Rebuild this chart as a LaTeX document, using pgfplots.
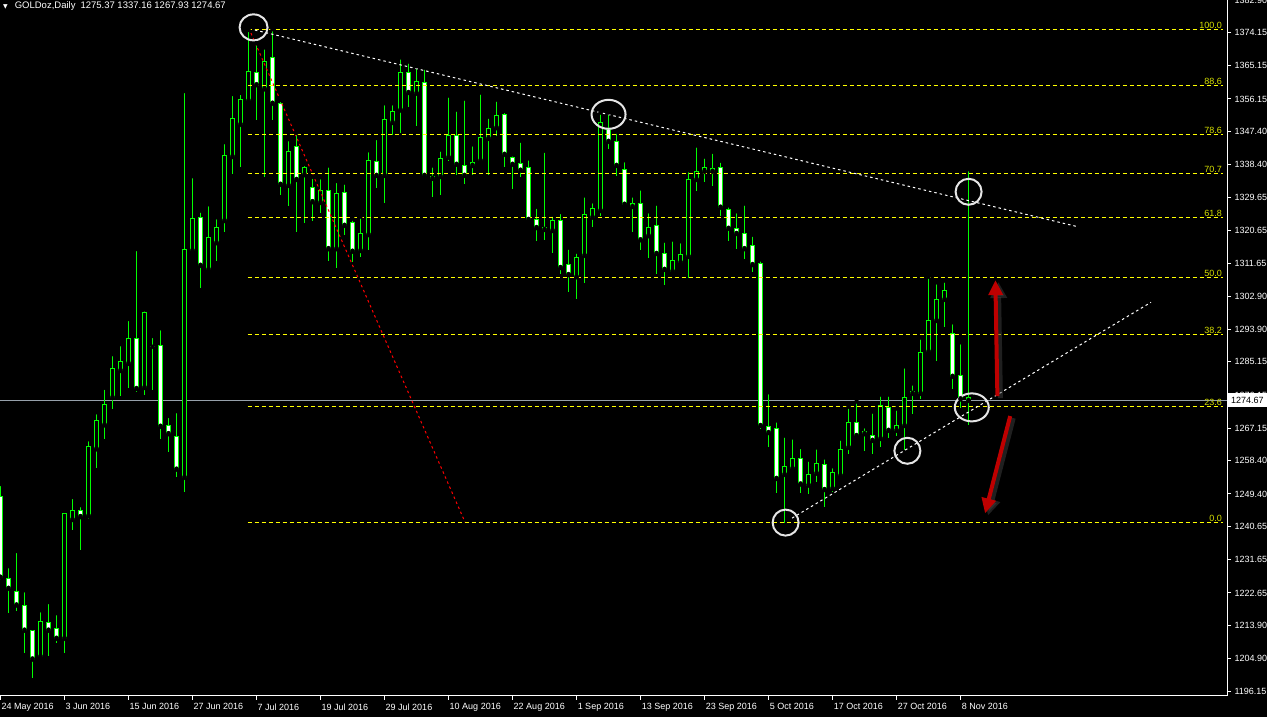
\documentclass[border=0pt]{standalone}
\usepackage{pgfplots}
\pgfplotsset{compat=1.18}
\usepackage{pgfplotstable}
\usepackage{fontspec}
\setmainfont{Liberation Sans}
\newfontfamily\symfont{DejaVu Sans}
\usetikzlibrary{arrows.meta}

\definecolor{candle}{RGB}{0,255,0}
\definecolor{fibline}{RGB}{255,255,0}
\definecolor{fibtext}{RGB}{215,225,0}
\definecolor{bidline}{RGB}{150,160,170}
\definecolor{arrowred}{RGB}{190,0,0}

% bar index k (0 = 24 May 2016), open high low close
\pgfplotstableread{
k o h l c
0 1248.6 1252.1 1226.1 1226.9
1 1226.5 1229.9 1217.3 1223.9
2 1223.0 1234.0 1217.7 1219.4
3 1219.2 1223.4 1206.3 1212.6
4 1212.4 1213.1 1199.6 1204.8
5 1205.5 1218.0 1205.3 1215.0
6 1214.6 1220.2 1205.7 1212.6
7 1213.0 1217.2 1209.2 1210.4
8 1210.4 1244.8 1206.5 1244.2
9 1242.5 1248.6 1239.6 1245.0
10 1245.0 1246.4 1234.2 1243.3
11 1243.5 1264.2 1242.6 1262.3
12 1261.6 1271.5 1256.4 1269.3
13 1268.1 1278.1 1264.3 1273.6
14 1275.5 1287.2 1272.3 1283.3
15 1282.8 1289.9 1275.9 1285.2
16 1284.7 1296.7 1278.1 1291.4
17 1291.4 1315.6 1277.0 1277.9
18 1278.2 1299.3 1276.1 1298.5
19 1289.3 1292.1 1277.5 1289.3
20 1289.6 1294.2 1264.3 1267.7
21 1267.9 1270.5 1260.8 1265.7
22 1265.0 1271.8 1254.0 1256.1
23 1253.9 1358.3 1250.0 1315.5
24 1315.2 1335.3 1315.0 1323.9
25 1324.2 1326.0 1305.1 1311.2
26 1310.1 1327.7 1310.1 1318.7
27 1317.3 1324.2 1312.4 1321.4
28 1323.3 1344.5 1320.3 1340.9
29 1340.6 1357.5 1335.9 1350.9
30 1349.3 1357.8 1337.8 1356.1
31 1355.7 1374.8 1355.1 1363.6
32 1363.3 1371.2 1350.5 1360.0
33 1358.9 1370.1 1335.1 1366.3
34 1367.4 1375.0 1350.5 1355.0
35 1355.0 1355.9 1330.2 1333.1
36 1332.8 1345.3 1327.2 1342.0
37 1343.3 1347.0 1320.1 1334.4
38 1335.7 1338.6 1322.5 1337.5
39 1332.2 1335.1 1323.2 1328.4
40 1328.2 1335.0 1325.4 1331.4
41 1331.4 1338.2 1312.4 1315.7
42 1315.7 1334.0 1310.6 1330.6
43 1330.9 1333.6 1319.4 1322.0
44 1322.8 1323.8 1312.1 1315.0
45 1315.2 1324.4 1313.5 1319.8
46 1319.5 1342.3 1315.4 1339.5
47 1339.3 1345.6 1332.1 1335.5
48 1335.5 1355.0 1328.1 1350.6
49 1349.8 1355.0 1346.3 1352.8
50 1353.2 1367.4 1347.0 1363.3
51 1363.3 1366.3 1354.1 1357.9
52 1357.7 1365.0 1348.9 1360.9
53 1360.6 1364.6 1334.7 1335.5
54 1335.2 1338.2 1329.7 1334.7
55 1335.2 1342.5 1330.3 1340.1
56 1340.4 1357.1 1339.5 1346.3
57 1346.3 1353.3 1335.7 1338.5
58 1338.2 1356.3 1333.3 1335.5
59 1338.2 1343.9 1335.7 1339.0
60 1339.5 1357.9 1339.0 1345.8
61 1345.5 1351.4 1335.7 1348.2
62 1348.4 1356.0 1346.1 1351.7
63 1352.0 1352.9 1337.7 1341.2
64 1340.3 1341.2 1331.7 1338.5
65 1338.7 1344.9 1335.1 1336.9
66 1337.7 1340.1 1323.4 1323.6
67 1323.6 1327.0 1317.8 1321.4
68 1321.4 1342.2 1318.1 1320.9
69 1320.6 1324.9 1314.6 1323.3
70 1323.3 1325.6 1308.9 1310.6
71 1311.4 1316.0 1303.9 1308.7
72 1308.1 1314.9 1302.1 1313.3
73 1313.9 1330.1 1306.3 1325.0
74 1324.2 1328.5 1321.6 1326.6
75 1326.0 1352.5 1324.6 1349.8
76 1347.9 1352.5 1342.5 1344.7
77 1344.7 1347.3 1335.4 1338.2
78 1337.1 1339.6 1327.5 1327.7
79 1327.8 1330.1 1320.3 1327.1
80 1327.8 1332.0 1315.4 1318.1
81 1319.2 1325.8 1313.2 1321.4
82 1322.0 1327.9 1308.9 1314.4
83 1314.4 1317.9 1306.0 1310.1
84 1309.6 1318.2 1309.4 1312.5
85 1312.0 1317.7 1312.0 1314.2
86 1313.6 1336.9 1307.7 1334.4
87 1334.4 1343.6 1331.2 1336.6
88 1336.6 1340.6 1333.6 1337.7
89 1336.6 1341.9 1332.5 1337.4
90 1337.7 1339.5 1324.5 1326.9
91 1326.3 1327.4 1317.9 1321.2
92 1321.2 1325.8 1315.7 1319.8
93 1319.8 1327.9 1313.0 1315.7
94 1316.5 1319.5 1309.3 1311.4
95 1311.7 1312.8 1266.9 1267.9
96 1267.7 1276.9 1262.0 1266.0
97 1267.1 1269.3 1249.6 1253.6
98 1254.7 1265.2 1241.5 1256.9
99 1256.3 1264.7 1256.0 1259.0
100 1259.0 1262.1 1249.6 1252.1
101 1251.8 1258.7 1249.5 1254.7
102 1255.0 1262.0 1252.5 1257.7
103 1257.4 1259.3 1245.8 1250.6
104 1250.9 1256.9 1249.8 1255.2
105 1254.4 1264.4 1254.4 1261.4
106 1262.0 1273.0 1260.1 1268.7
107 1268.7 1274.4 1264.4 1265.2
108 1266.3 1267.7 1260.9 1265.7
109 1265.2 1271.7 1260.1 1263.9
110 1264.4 1276.3 1262.0 1273.2
111 1272.8 1276.3 1264.4 1266.6
112 1266.6 1272.5 1265.0 1267.9
113 1267.9 1283.9 1261.2 1275.5
114 1277.1 1279.3 1270.9 1276.6
115 1276.6 1291.7 1275.2 1287.7
116 1287.9 1308.1 1287.9 1296.3
117 1296.3 1306.6 1285.4 1302.0
118 1302.0 1307.1 1294.6 1304.4
119 1292.8 1295.8 1277.8 1281.2
120 1281.5 1290.4 1272.5 1275.1
121 1275.37 1337.16 1267.93 1274.67
}\candles

\pgfplotsset{
  body/.style={only marks, mark=none,
    error bars/.cd, y dir=plus, y explicit, error mark=none,
    error bar style={line cap=butt, #1}},
  fib/.style={fibline, line width=1pt, dash pattern=on 4pt off 3pt},
  trend/.style={line width=1pt, dash pattern=on 2.5pt off 3pt},
}

\begin{document}
\begin{tikzpicture}[font=\fontsize{9}{10}\selectfont]
\fill[black] (0,-21pt) rectangle (1267pt,696pt);
\useasboundingbox (0,-21pt) rectangle (1267pt,696pt);
\begin{axis}[
    at={(0,0)}, anchor=south west,
    width=1227pt, height=696pt, scale only axis,
    xmin=-0.0625, xmax=153.3,
    ymin=1194.8, ymax=1382.9,
    axis x line*=bottom, axis y line*=right,
    axis line style={white, line width=1pt, -},
    tick style={white, line width=1pt},
    tick align=outside,
    major tick length=4pt,
    tick label style={font=\fontsize{9}{10}\selectfont, white},
    xtick={0,8,...,120},
    xticklabels={24 May 2016, 3 Jun 2016, 15 Jun 2016, 27 Jun 2016, 7 Jul 2016,
        19 Jul 2016, 29 Jul 2016, 10 Aug 2016, 22 Aug 2016, 1 Sep 2016,
        13 Sep 2016, 23 Sep 2016, 5 Oct 2016, 17 Oct 2016, 27 Oct 2016, 8 Nov 2016},
    xticklabel style={anchor=north west, inner xsep=1pt},
    ytick={1196.15,1204.90,1213.90,1222.65,1231.65,1240.65,1249.40,1258.40,
        1267.15,1276.15,1285.15,1293.90,1302.90,1311.65,1320.65,1329.65,
        1338.40,1347.40,1356.15,1365.15,1374.15,1382.90},
    yticklabels={1196.15,1204.90,1213.90,1222.65,1231.65,1240.65,1249.40,1258.40,
        1267.15,1276.15,1285.15,1293.90,1302.90,1311.65,1320.65,1329.65,
        1338.40,1347.40,1356.15,1365.15,1374.15,1382.90},
    yticklabel style={anchor=west},
    clip=false,
]

% bid line
\addplot[bidline, line width=1pt] coordinates {(-0.0625,1274.67) (153.3,1274.67)};

% wicks
\addplot[only marks, mark=none,
    error bars/.cd, y dir=minus, y explicit, error mark=none,
    error bar style={draw=candle, line width=1pt}]
    table[x=k, y=h, y error expr=\thisrow{h}-\thisrow{l}] {\candles};

% bodies: green outline, then black (bull) or white (bear) inside
\addplot[body={draw=candle, line width=5pt}]
    table[x=k, y expr={min(\thisrow{o},\thisrow{c})-0.14},
          y error expr={abs(\thisrow{c}-\thisrow{o})+0.28}] {\candles};
\addplot[restrict expr to domain={\thisrow{c}-\thisrow{o}}{0.3:1000},
    body={draw=black, line width=3pt}]
    table[x=k, y expr={\thisrow{o}+0.14},
          y error expr={\thisrow{c}-\thisrow{o}-0.28}] {\candles};
\addplot[restrict expr to domain={\thisrow{o}-\thisrow{c}}{0.3:1000},
    body={draw=white, line width=3pt}]
    table[x=k, y expr={\thisrow{c}+0.14},
          y error expr={\thisrow{o}-\thisrow{c}-0.28}] {\candles};

% fibonacci levels (high 1374.93 to low 1241.69)
\addplot[fib] coordinates {(30.9,1374.93) (152.8,1374.93)};
\addplot[fib] coordinates {(30.9,1359.79) (152.8,1359.79)};
\addplot[fib] coordinates {(30.9,1346.55) (152.8,1346.55)};
\addplot[fib] coordinates {(30.9,1336.01) (152.8,1336.01)};
\addplot[fib] coordinates {(30.9,1324.12) (152.8,1324.12)};
\addplot[fib] coordinates {(30.9,1307.90) (152.8,1307.90)};
\addplot[fib] coordinates {(30.9,1292.50) (152.8,1292.50)};
\addplot[fib] coordinates {(30.9,1273.04) (152.8,1273.04)};
\addplot[fib] coordinates {(30.9,1241.69) (152.8,1241.69)};
\begin{scope}[every node/.style={fibtext, anchor=south east, inner sep=1pt}]
\node at (axis cs:152.8,1374.93) {100.0};
\node at (axis cs:152.8,1359.79) {88.6};
\node at (axis cs:152.8,1346.55) {78.6};
\node at (axis cs:152.8,1336.01) {70.7};
\node at (axis cs:152.8,1324.12) {61.8};
\node at (axis cs:152.8,1307.90) {50.0};
\node at (axis cs:152.8,1292.50) {38.2};
\node at (axis cs:152.8,1273.04) {23.6};
\node at (axis cs:152.8,1241.69) {0.0};
\end{scope}

% trend lines
\addplot[white, trend] coordinates {(31.8,1374.77) (134.7,1321.6)};
\addplot[white, trend] coordinates {(98.94,1242.88) (143.8,1301.2)};
\addplot[red, trend] coordinates {(31.3,1373.96) (58.06,1241.8)};

% circles
\draw[white!90!black, line width=2pt] (axis cs:31.63,1375.5) ellipse [x radius=14pt, y radius=13pt];
\draw[white!90!black, line width=2pt] (axis cs:76.0,1352.0) ellipse [x radius=17pt, y radius=14.5pt];
\draw[white!90!black, line width=2pt] (axis cs:121.0,1331.07) ellipse [x radius=13pt, y radius=13pt];
\draw[white!90!black, line width=2pt] (axis cs:121.4,1272.8) ellipse [x radius=17pt, y radius=14pt];
\draw[white!90!black, line width=2pt] (axis cs:113.35,1261.07) ellipse [x radius=13pt, y radius=13pt];
\draw[white!90!black, line width=2pt] (axis cs:98.13,1241.66) ellipse [x radius=13pt, y radius=13pt];

% arrows
\draw[black!75!white, opacity=0.5, line width=5pt, -{Triangle[width=16pt,length=16pt]}]
    ([xshift=3pt,yshift=-2pt]axis cs:124.6,1275.85) -- ([xshift=3pt,yshift=-2pt]axis cs:124.35,1307.2);
\draw[black!75!white, opacity=0.5, line width=5pt, -{Triangle[width=16pt,length=16pt]}]
    ([xshift=3pt,yshift=-2pt]axis cs:126.2,1270.45) -- ([xshift=3pt,yshift=-2pt]axis cs:123.06,1244.15);
\draw[arrowred, line width=4pt, -{Triangle[width=14pt,length=15pt]}]
    (axis cs:124.6,1275.85) -- (axis cs:124.35,1307.2);
\draw[arrowred, line width=4pt, -{Triangle[width=14pt,length=15pt]}]
    (axis cs:126.2,1270.45) -- (axis cs:123.06,1244.15);

% current price box on the price scale
\fill[white] (axis cs:153.3,1274.67) ++(1pt,-7pt) rectangle ++(40pt,14pt);
\node[black, anchor=west, inner sep=0pt] at ([xshift=4pt]axis cs:153.3,1274.67) {1274.67};
\end{axis}

% title
\node[white, anchor=north west, inner sep=0pt] at (3pt,695pt)
    {{\symfont\fontsize{6}{6}\selectfont ▼}\hspace{7pt}\fontsize{9.5}{10}\selectfont GOLDoz,Daily\hspace{5pt}1275.37 1337.16 1267.93 1274.67};
\end{tikzpicture}
\end{document}
